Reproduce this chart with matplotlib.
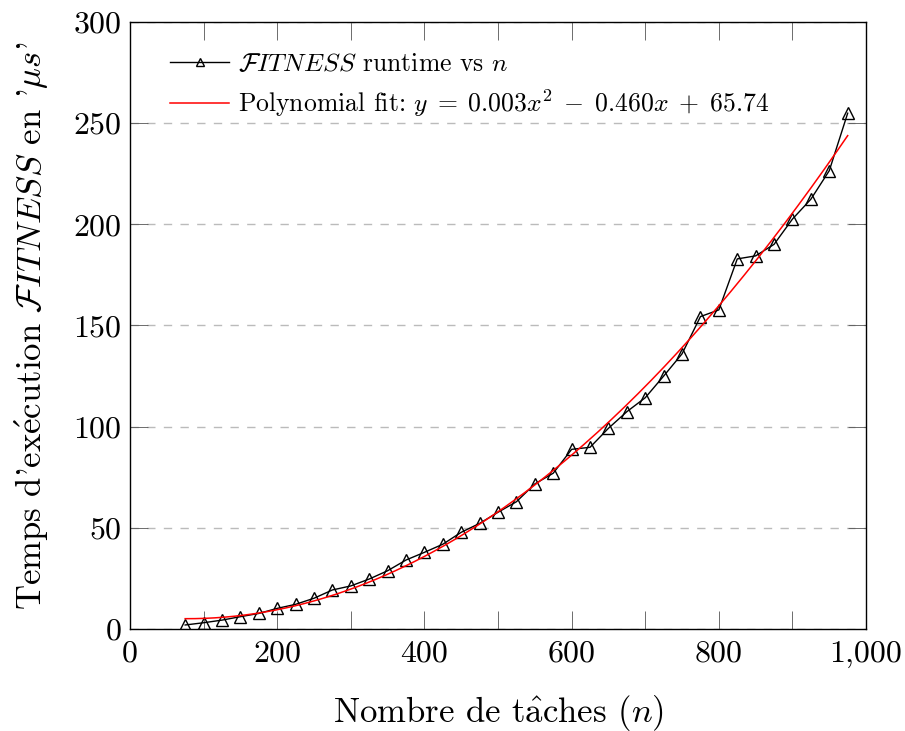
import numpy as np
import matplotlib
matplotlib.use("Agg")
import matplotlib.pyplot as plt
from matplotlib.ticker import FuncFormatter, MultipleLocator

plt.rcParams['font.family'] = ['cmr10', 'DejaVu Serif']
plt.rcParams['mathtext.fontset'] = 'cm'
plt.rcParams['axes.formatter.use_mathtext'] = True

# data
n_tasks = [75, 100, 125, 150, 175, 200, 225, 250, 275, 300, 325, 350, 375,
           400, 425, 450, 475, 500, 525, 550, 575, 600, 625, 650, 675, 700,
           725, 750, 775, 800, 825, 850, 875, 900, 925, 950, 975]
runtime = [2.0, 3.1, 4.4, 6.1, 7.7, 10.2, 12.2, 15.2, 19.3, 21.3, 24.7, 28.8,
           34.1, 37.9, 41.9, 47.8, 52.2, 57.7, 62.9, 71.7, 77.0, 88.8, 89.8,
           99.2, 107.4, 114.3, 125.0, 136.0, 154.4, 157.7, 182.9, 184.4,
           190.1, 202.6, 212.4, 226.5, 254.9]

fit_label = r"Polynomial fit: $y\;=\;0.003x^2\;-\;0.460x\;+\;65.74$"
data_label = r"$\mathcal{F}ITNESS$ runtime vs $n$"
xlabel = r"Nombre de t$\hat{\mathrm{a}}$ches $(n)$"
ylabel = r"Temps d'ex$\acute{\mathrm{e}}$cution $\mathcal{F}ITNESS$ en '$\mu s$'"

# quadratic fit of the measured points
coef = np.polyfit(n_tasks, runtime, 2)
xfit = np.linspace(min(n_tasks), max(n_tasks), 200)
yfit = np.polyval(coef, xfit)

fig = plt.figure(figsize=(9.05, 7.31), dpi=100)
ax = fig.add_axes([0.1436, 0.1395, 0.8134, 0.8305])

ax.plot(n_tasks, runtime, color='black', lw=1.0, marker='^', markersize=9,
        markerfacecolor='none', markeredgewidth=1.0, label=data_label)
ax.plot(xfit, yfit, color='red', lw=1.1, label=fit_label)

ax.set_xlim(0, 1000)
ax.set_ylim(0, 300)
ax.xaxis.set_major_locator(MultipleLocator(200))
ax.xaxis.set_minor_locator(MultipleLocator(100))
ax.yaxis.set_major_locator(MultipleLocator(50))
ax.xaxis.set_major_formatter(FuncFormatter(lambda v, p: "{:,}".format(int(v))))

ax.tick_params(which='both', direction='in', top=True, right=True,
               length=13, width=0.6, color='#555555', labelsize=23)
ax.tick_params(axis='x', pad=8)
ax.tick_params(axis='y', pad=6)

ax.grid(axis='y', which='major', color='#bbbbbb', linestyle=(0, (6, 6)), lw=1.0)
ax.set_axisbelow(True)
for s in ax.spines.values():
    s.set_linewidth(1.0)

ax.set_xlabel(xlabel, fontsize=25, labelpad=18)
ax.set_ylabel(ylabel, fontsize=25, labelpad=16)

ax.legend(loc='upper left', bbox_to_anchor=(0.03, 0.98), frameon=False,
          fontsize=18.5, handlelength=2.3, handletextpad=0.35, markerscale=0.6,
          borderaxespad=0.3, labelspacing=0.45)

fig.savefig("out.png", dpi=100)
